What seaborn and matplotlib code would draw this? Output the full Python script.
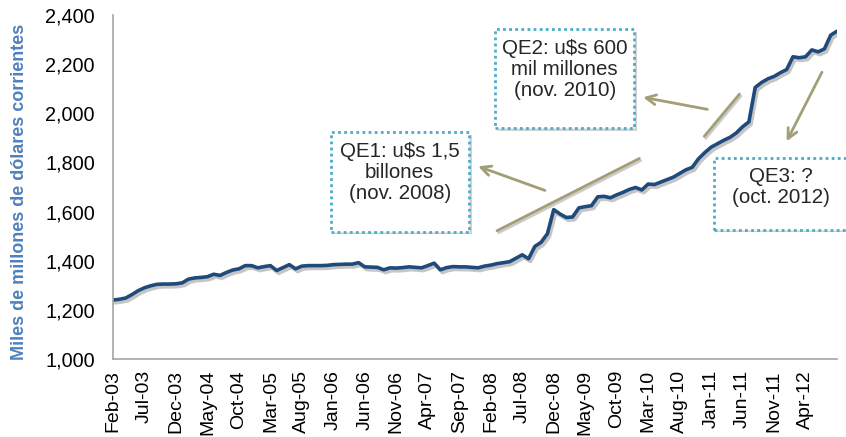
import numpy as np
import pandas as pd
import seaborn as sns
import matplotlib
matplotlib.use('Agg')
from matplotlib import pyplot as plt
from matplotlib.patches import Rectangle
import matplotlib.patheffects as pe

# monthly series, Feb-03 .. Sep-12
values = [1240, 1243, 1248, 1262, 1278, 1290, 1298, 1304, 1305, 1305,
          1306, 1310, 1325, 1330, 1332, 1335, 1345, 1340, 1352, 1362,
          1367, 1380, 1380, 1371, 1376, 1380, 1360, 1372, 1384, 1367,
          1378, 1380, 1380, 1380, 1381, 1384, 1385, 1386, 1386, 1392,
          1375, 1374, 1373, 1363, 1371, 1370, 1372, 1375, 1373, 1371,
          1380, 1390, 1363, 1372, 1376, 1375, 1375, 1373, 1371, 1378,
          1382, 1388, 1392, 1396, 1410, 1424, 1408, 1458, 1475, 1510,
          1608, 1590, 1576, 1578, 1615, 1620, 1624, 1660, 1662, 1656,
          1668, 1678, 1690, 1698, 1688, 1712, 1710, 1720, 1730, 1740,
          1755, 1770, 1780, 1815, 1840, 1862, 1876, 1890, 1902, 1920,
          1945, 1965, 2105, 2125, 2140, 2150, 2165, 2178, 2230, 2226,
          2230, 2258, 2250, 2262, 2318, 2334]
months = pd.date_range('2003-02-01', periods=len(values), freq='MS')
tick_labels = [m.strftime('%b-%y') for m in months]

y_label = 'Miles de millones de dólares corrientes'
notes = ['QE1: u$s 1,5\nbillones\n(nov. 2008)',
         'QE2: u$s 600\nmil millones\n(nov. 2010)',
         'QE3: ?\n(oct. 2012)']

df = pd.DataFrame({'idx': np.arange(len(values)), 'val': values})

sns.set_style('white')
plt.rcParams['font.family'] = ['Liberation Sans', 'DejaVu Sans']

fig = plt.figure(figsize=(8.46, 4.37), dpi=100)
ax = fig.add_axes([0.1336, 0.1785, 0.8558, 0.7872])

shadow = [pe.SimpleLineShadow(offset=(1.5, -2), shadow_color='gray', alpha=0.45),
          pe.Normal()]
sns.lineplot(data=df, x='idx', y='val', ax=ax, color='#1F4A7C', linewidth=2.6,
             path_effects=shadow)

ax.set_xlim(0, 115)
ax.set_ylim(1000, 2400)
ticks = list(range(0, 116, 5))
ax.set_xticks(ticks)
ax.set_xticklabels([tick_labels[t] if t < 115 else '' for t in ticks],
                   rotation=90, fontsize=14)
ax.set_yticks(range(1000, 2401, 200))
ax.set_yticklabels(['{:,}'.format(v) for v in range(1000, 2401, 200)],
                   fontsize=14.3)
ax.set_xlabel('')
ax.set_ylabel(y_label, fontsize=13, fontweight='bold', color='#4F81BD')
ax.yaxis.set_label_coords(-0.117, 0.485)
for s in ['top', 'right']:
    ax.spines[s].set_visible(False)
for s in ['left', 'bottom']:
    ax.spines[s].set_color('#A6A6A6')
    ax.spines[s].set_linewidth(1.2)
ax.tick_params(axis='both', direction='out', length=5, width=1.2,
               color='#A6A6A6', labelcolor='black', pad=3)
ax.tick_params(axis='y', pad=8)

# note boxes (data coords)
boxes = [(34.6, 1518, 21.9, 404), (60.7, 1939, 22.1, 404), (95.5, 1527, 21.2, 293)]
box_shadow = [pe.SimplePatchShadow(offset=(2, -2), shadow_rgbFace='gray', alpha=0.35),
              pe.Normal()]
for (x0, y0, w, h), txt in zip(boxes, notes):
    r = Rectangle((x0, y0), w, h, facecolor='white', edgecolor='#4BACC6',
                  linewidth=2, linestyle=(0, (1, 1.2)), clip_on=False,
                  zorder=3, path_effects=box_shadow)
    ax.add_patch(r)
    ty = y0 + h / 2 + (38 if txt.count('\n') == 2 else 25)
    ax.text(x0 + w / 2, ty, txt, ha='center', va='center', fontsize=14.8,
            linespacing=1.15, zorder=4, clip_on=False)

arrow_col = '#A29E76'
arr_shadow = [pe.SimpleLineShadow(offset=(1, -1.5), shadow_color='gray', alpha=0.4),
              pe.Normal()]
arrows = [((68.6, 1686), (58.0, 1784)),
          ((94.4, 2016), (84.2, 2065)),
          ((112.6, 2167), (107.0, 1886))]
for tail, head in arrows:
    ax.annotate('', xy=head, xytext=tail,
                arrowprops=dict(arrowstyle='->,head_length=0.7,head_width=0.35',
                                color=arrow_col, lw=2, shrinkA=0, shrinkB=0))
segments = [((61.0, 1522), (83.6, 1816)), ((93.9, 1906), (99.5, 2078))]
for a, b in segments:
    ax.plot([a[0], b[0]], [a[1], b[1]], color=arrow_col, lw=2,
            path_effects=arr_shadow, zorder=2)

fig.savefig('out.png', dpi=100)
